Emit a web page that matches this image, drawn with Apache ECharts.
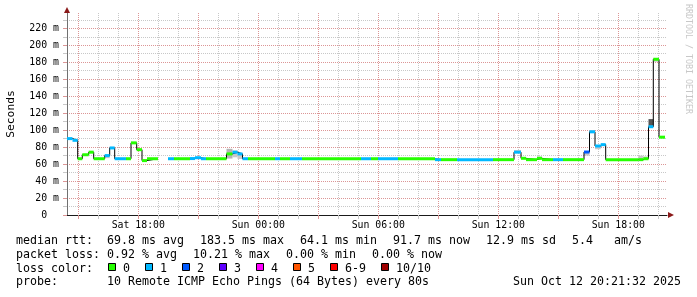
<!DOCTYPE html>
<html><head><meta charset="utf-8">
<script src="https://cdn.jsdelivr.net/npm/echarts@6/dist/echarts.min.js"></script>
<style>html,body{margin:0;padding:0;background:#fff}#c{width:697px;height:297px}</style>
</head><body><div id="c"></div>
<script>
// ---------------- data ----------------
// segment boundaries in hours since Sat Oct 11 00:00
const segBounds = [14.435, 14.71, 14.97, 15.20, 15.52, 15.77, 16.32, 16.57, 16.82, 17.385,
  17.635, 17.92, 18.185, 18.435, 18.985, 19.485, 19.785, 20.585, 20.835, 21.135,
  21.385, 22.41, 22.71, 22.96, 23.21, 23.485, 24.835, 25.085, 25.585, 26.185,
  29.135, 29.635, 29.985, 30.985, 32.835, 33.135, 33.935, 35.735, 36.785, 37.135,
  37.385, 37.935, 38.185, 38.735, 39.235, 40.285, 40.56, 40.835, 41.12, 41.37,
  43.0, 43.25, 43.51, 43.75, 44.035, 44.335];
// median rtt (ms) for each segment
const medianRtt = [90, 88, 66.3, 71, 74, 66.3, 70, 79, 66.3, 66.3,
  85, 77, 64.1, 66.3, null, 66.3, 66.3, 66.5, 67.5, 66.3,
  66.3, 72, 74, 72, 66.3, 66.3, 66.3, 66.3, 66.3, 66.3,
  66.3, 66.3, 66.3, 66.3, 65.2, 65.2, 65.2, 65.2, 74, 66.8,
  65.2, 66.8, 65.2, 65.2, 65.2, 74.2, 98, 81.3, 82.9, 65.2,
  65.2, 66.3, 104, 183.5, 91.7];
// lost pings (of 10) for each segment
const lostPings = [1, 1, 0, 0, 0, 0, 1, 1, 1, 0,
  0, 0, 0, 0, null, 1, 0, 1, 1, 1,
  0, 0, 1, 1, 1, 0, 1, 0, 1, 0,
  1, 0, 1, 0, 1, 0, 1, 0, 1, 0,
  0, 0, 0, 1, 0, 2, 1, 1, 1, 0,
  0, 0, 1, 0, 0];
// visible smoke (ping spread) per segment: low / high (ms), pings in band
const smokeLow  = [null,null,null,null,null,null,67,null,null,null,
  null,null,null,null,null,null,null,null,null,null,
  null,66.5,68,66,null,null,null,null,null,null,
  null,null,null,null,null,null,null,null,74,null,
  null,66.8,null,null,null,70,98,77.5,null,null,
  65.2,66.3,105,180.5,null];
const smokeHigh = [null,null,null,null,null,null,70,null,null,null,
  null,null,null,null,null,null,null,null,null,null,
  null,78,76,72,null,null,null,null,null,null,
  null,null,null,null,null,null,null,null,76.5,null,
  null,69,null,null,null,74,100,81.3,null,null,
  70,69,113,183.5,null];
const smokeCount = [0,0,0,0,0,0,2,0,0,0, 0,0,0,0,0,0,0,0,0,0,
  0,3,2,2,0,0,0,0,0,0, 0,0,0,0,0,0,0,0,2,0,
  0,2,0,0,0,2,2,2,0,0, 2,2,8,2,0];

const xTickValues = [18, 24, 30, 36, 42];
const xTickLabels = ['Sat 18:00', 'Sun 00:00', 'Sun 06:00', 'Sun 12:00', 'Sun 18:00'];
const xMajorGrid = [15, 18, 21, 24, 27, 30, 33, 36, 39, 42];
const xMinorGrid = [16, 17, 19, 20, 22, 23, 25, 26, 28, 29, 31, 32, 34, 35, 37, 38, 40, 41, 43, 44];
const yTickValues = [0, 20, 40, 60, 80, 100, 120, 140, 160, 180, 200, 220];
const yMinorGrid = [10, 30, 50, 70, 90, 110, 130, 150, 170, 190, 210, 230];

const lossLabels = ['0', '1', '2', '3', '4', '5', '6-9', '10/10'];
const legendRows = [
  ['median rtt:  69.8 ms avg', '183.5 ms max', '64.1 ms min', '91.7 ms now', '12.9 ms sd', '5.4   am/s'],
  ['packet loss: 0.92 % avg', '10.21 % max', '0.00 % min', '0.00 % now'],
  ['loss color:'],
  ['probe:       10 Remote ICMP Echo Pings (64 Bytes) every 80s']
];
const stampText = 'Sun Oct 12 20:21:32 2025';

// ---------------- styles ----------------
const lossColors = ['#26ff00', '#00b8ff', '#0059ff', '#5e00ff', '#ff00ff', '#ff5500', '#ff0000', '#a00000'];
const majorColor = '#dc9696';
const minorColor = '#c8c8c8';
const mono = '"DejaVu Sans Mono"';
const xMin = 14.435, xMax = 44.435, yMax = 238;
const charW = 7, itemGap = 16;

// ---------------- build ----------------
const lineData = [], bandData = [], smokeData = [];
for (let i = 0; i < medianRtt.length; i++) {
  const s = segBounds[i], e = segBounds[i + 1], m = medianRtt[i];
  if (m == null) { lineData.push([s, null]); continue; }
  lineData.push([s, m]);
  if (i === medianRtt.length - 1 || medianRtt[i + 1] == null) lineData.push([e, m]);
  bandData.push([s, e, m, lostPings[i]]);
  if (smokeLow[i] != null) smokeData.push([s, e, smokeLow[i], smokeHigh[i], smokeCount[i]]);
}
function lossIdx(l) { if (l <= 5) return l; if (l < 10) return 6; return 7; }

const legFont = '11.63px ' + mono;
const graphics = [];
graphics.push({ type: 'text', x: 10.8, y: 114, rotation: Math.PI / 2,
  style: { text: 'Seconds', font: '11.3px ' + mono, fill: '#000', align: 'center', verticalAlign: 'middle' } });
graphics.push({ type: 'text', x: 688, y: 4, rotation: -Math.PI / 2,
  style: { text: 'RRDTOOL / TOBI OETIKER', font: '8.3px ' + mono, fill: '#c8c8c8', align: 'left', verticalAlign: 'middle' } });
const rowY = [241.2, 255, 268.6, 282.4];
legendRows.forEach((items, r) => {
  let x = 16;
  items.forEach(t => {
    graphics.push({ type: 'text', x: x, y: rowY[r],
      style: { text: t, font: legFont, fill: '#000', align: 'left', verticalAlign: 'middle' } });
    x += t.length * charW + itemGap;
  });
});
graphics.push({ type: 'text', x: 681, y: rowY[3],
  style: { text: stampText, font: legFont, fill: '#000', align: 'right', verticalAlign: 'middle' } });
let bx = 108;
lossLabels.forEach((lab, i) => {
  graphics.push({ type: 'rect', shape: { x: bx + 0.5, y: 263.5, width: 7, height: 7 },
    style: { fill: lossColors[i], stroke: '#000', lineWidth: 1 } });
  graphics.push({ type: 'text', x: bx + 15, y: rowY[2],
    style: { text: lab, font: legFont, fill: '#000', align: 'left', verticalAlign: 'middle' } });
  bx += 15 + lab.length * charW + 15;
});

const chart = echarts.init(document.getElementById('c'));
chart.setOption({
  animation: false,
  backgroundColor: '#ffffff',
  grid: { left: 67, right: 30, top: 13, bottom: 82, containLabel: false },
  xAxis: [{
    type: 'value', min: xMin, max: xMax, position: 'bottom',
    axisLine: { show: true, onZero: false, lineStyle: { color: '#1a1a1a', width: 1 } },
    axisTick: { show: true, length: 4, customValues: xMajorGrid, lineStyle: { color: majorColor } },
    axisLabel: { show: true, customValues: xTickValues, margin: 5,
      formatter: v => xTickLabels[xTickValues.indexOf(v)],
      fontFamily: 'DejaVu Sans Mono', fontSize: 9.85, color: '#000' },
    splitLine: { show: true, lineStyle: { color: majorColor, type: [1, 1], width: 1 } }
  }, {
    type: 'value', min: xMin, max: xMax, position: 'bottom',
    axisLine: { show: true, onZero: false, symbol: ['none', 'triangle'], symbolSize: [6, 6], symbolOffset: [0, 4],
      lineStyle: { color: '#8b1a1a', width: 0 } },
    axisTick: { show: true, length: 4, customValues: xMinorGrid, lineStyle: { color: minorColor } },
    axisLabel: { show: false },
    splitLine: { show: true, lineStyle: { color: minorColor, type: [1, 1], width: 1 } }
  }],
  yAxis: [{
    type: 'value', min: 0, max: yMax, position: 'left',
    axisLine: { show: true, onZero: false, lineStyle: { color: '#707070', width: 1 } },
    axisTick: { show: true, length: 4, customValues: yTickValues, lineStyle: { color: majorColor } },
    axisLabel: { show: true, customValues: yTickValues, margin: 8,
      formatter: v => v === 0 ? '0  ' : v + ' m',
      fontFamily: 'DejaVu Sans Mono', fontSize: 9.85, color: '#000' },
    splitLine: { show: true, lineStyle: { color: majorColor, type: [1, 1], width: 1 } }
  }, {
    type: 'value', min: 0, max: yMax, position: 'left',
    axisLine: { show: true, onZero: false, symbol: ['none', 'triangle'], symbolSize: [6, 6], symbolOffset: [0, 3],
      lineStyle: { color: '#8b1a1a', width: 0 } },
    axisTick: { show: true, length: 4, customValues: yMinorGrid, lineStyle: { color: minorColor } },
    axisLabel: { show: false },
    splitLine: { show: true, lineStyle: { color: minorColor, type: [1, 1], width: 1 } }
  }],
  series: [{
    type: 'custom', name: 'smoke', xAxisIndex: 0, yAxisIndex: 0, z: 1, silent: true, clip: true,
    encode: { x: [0, 1], y: [2, 3] },
    data: smokeData,
    renderItem: (params, api) => {
      const a = api.coord([api.value(0), api.value(3)]);
      const b = api.coord([api.value(1), api.value(2)]);
      return { type: 'rect', shape: { x: a[0], y: a[1], width: b[0] - a[0], height: b[1] - a[1] },
        style: { fill: api.value(4) > 4 ? '#555555' : (api.value(4) > 2 ? '#b4b4b4' : '#c8c8c8') } };
    }
  }, {
    type: 'line', name: 'median', xAxisIndex: 0, yAxisIndex: 0, z: 2, step: 'end',
    data: lineData, symbol: 'none', connectNulls: false,
    lineStyle: { color: '#000000', width: 1 }
  }, {
    type: 'custom', name: 'loss', xAxisIndex: 0, yAxisIndex: 0, z: 3, silent: true, clip: true,
    encode: { x: [0, 1], y: 2 },
    data: bandData,
    renderItem: (params, api) => {
      const a = api.coord([api.value(0), api.value(2)]);
      const b = api.coord([api.value(1), api.value(2)]);
      return { type: 'rect', shape: { x: a[0], y: a[1] - 1.5, width: b[0] - a[0], height: 3 },
        style: { fill: lossColors[lossIdx(api.value(3))] } };
    }
  }],
  graphic: graphics
});
</script></body></html>
